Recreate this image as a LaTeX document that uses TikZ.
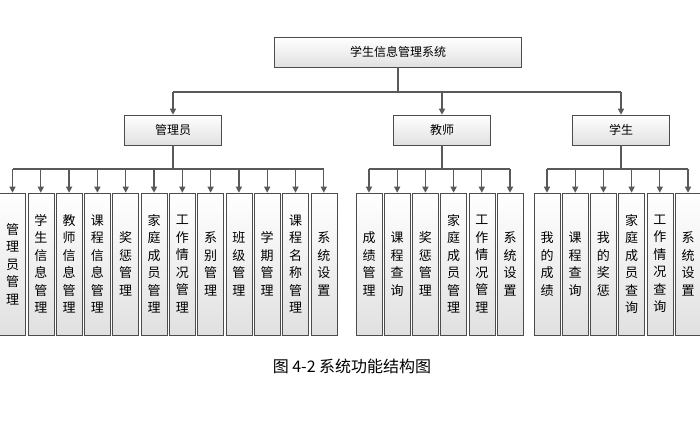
\documentclass[tikz,border=0pt]{standalone}
\usepackage{fontspec}
\setmainfont{Noto Sans CJK SC}
\usetikzlibrary{arrows.meta}
\begin{document}
\begin{tikzpicture}[x=1pt,y=-1pt,
  bx/.style={draw=black!70,top color=white,bottom color=black!12,line width=0.6pt,inner sep=0pt},
  leaf/.style={bx,minimum width=26pt,minimum height=142pt,align=center,font=\fontsize{13}{17.5}\selectfont},
  mid/.style={bx,minimum width=97pt,minimum height=30pt,font=\fontsize{12}{14}\selectfont},
  conn/.style={draw=black!65,line width=1.3pt,-{Triangle[length=6pt,width=6pt]}},
  ln/.style={draw=black!65,line width=1.3pt}]
\useasboundingbox (0,0) rectangle (700,424);
\node[bx,minimum width=247pt,minimum height=30pt,font=\fontsize{12}{14}\selectfont] (root) at (398,52) {学生信息管理系统};
\node[mid] (m1) at (173,130) {管理员};
\node[mid] (m2) at (442,130) {教师};
\node[mid] (m3) at (621,130) {学生};
\coordinate (rj) at (398,92);
\draw[ln] (root.south) -- (rj);
\draw[ln] (173,92) -- (621,92);
\foreach \m/\x in {m1/173,m2/442,m3/621}{\draw[conn] (\x,92) -- (\m.north);}
% admin
\foreach [count=\i from 0] \t in {管\\理\\员\\管\\理,学\\生\\信\\息\\管\\理,教\\师\\信\\息\\管\\理,课\\程\\信\\息\\管\\理,奖\\惩\\管\\理,家\\庭\\成\\员\\管\\理,工\\作\\情\\况\\管\\理,系\\别\\管\\理,班\\级\\管\\理,学\\期\\管\\理,课\\程\\名\\称\\管\\理,系\\统\\设\\置}{
  \node[leaf] (a\i) at ({12.5+28.3*\i},264) {\t};
  \draw[conn] ({12.5+28.3*\i},169) -- (a\i.north);}
\draw[ln] (m1.south) -- (173,169);
\draw[ln] (12.5,169) -- (323.8,169);
% teacher
\foreach [count=\i from 0] \t in {成\\绩\\管\\理,课\\程\\查\\询,奖\\惩\\管\\理,家\\庭\\成\\员\\管\\理,工\\作\\情\\况\\管\\理,系\\统\\设\\置}{
  \node[leaf] (t\i) at ({369+28.2*\i},264) {\t};
  \draw[conn] ({369+28.2*\i},169) -- (t\i.north);}
\draw[ln] (m2.south) -- (442,169);
\draw[ln] (369,169) -- (510,169);
% student
\foreach [count=\i from 0] \t in {我\\的\\成\\绩,课\\程\\查\\询,我\\的\\奖\\惩,家\\庭\\成\\员\\查\\询,工\\作\\情\\况\\查\\询,系\\统\\设\\置}{
  \node[leaf] (s\i) at ({547+28.2*\i},264) {\t};
  \draw[conn] ({547+28.2*\i},169) -- (s\i.north);}
\draw[ln] (m3.south) -- (621,169);
\draw[ln] (547,169) -- (688,169);
\node[font=\fontsize{16}{19}\selectfont] (cap) at (352,366) {图 4-2 系统功能结构图};
\end{tikzpicture}
\end{document}
